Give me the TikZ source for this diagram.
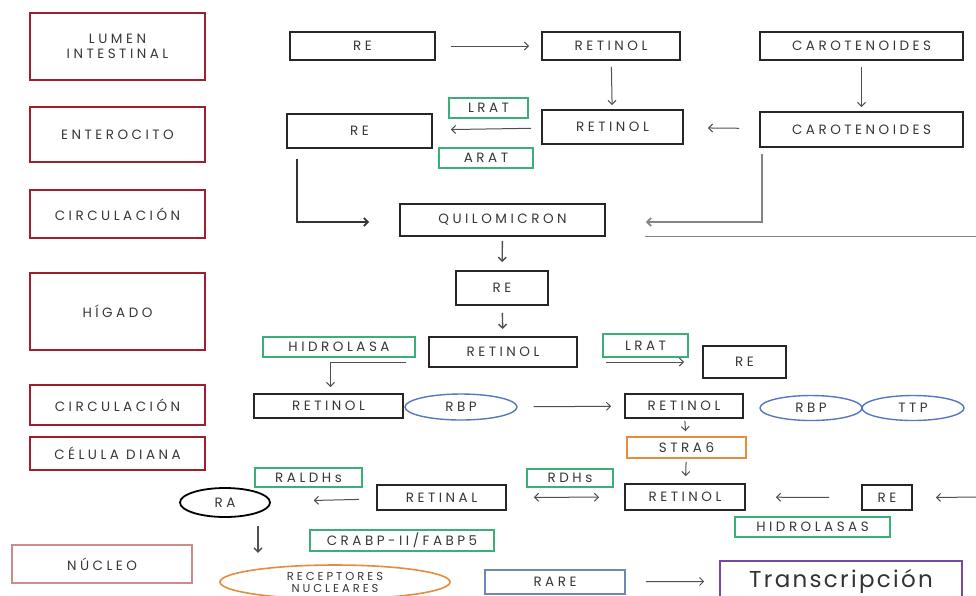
\documentclass[tikz,border=0pt]{standalone}
\usepackage{fontspec}
\setmainfont{Poppins}
\newfontfamily\cajafont[LetterSpace=26]{Poppins}
\newfontfamily\grandefont[LetterSpace=10]{Poppins}
\usetikzlibrary{shapes.geometric,arrows.meta}

\definecolor{zonarojo}{RGB}{160,30,45}
\definecolor{nucleorosa}{RGB}{205,140,140}
\definecolor{verdeenz}{RGB}{60,175,120}
\definecolor{naranja}{RGB}{230,140,60}
\definecolor{azulov}{RGB}{85,120,190}
\definecolor{azulrare}{RGB}{110,135,185}
\definecolor{morado}{RGB}{115,75,165}
\definecolor{texto}{RGB}{55,55,55}
\definecolor{gris}{RGB}{80,80,80}

\begin{document}
\begin{tikzpicture}[x=1pt,y=-1pt,
  every node/.style={font=\cajafont\fontsize{13.5}{15}\selectfont, text=texto, inner sep=0pt},
  zona/.style={draw=zonarojo, line width=1.5pt, align=center},
  caja/.style={draw=black!85, line width=1.8pt},
  enzima/.style={draw=verdeenz, line width=1.8pt},
  ovalo/.style={ellipse, draw=azulov, line width=1.4pt},
  flecha/.style={-{Straight Barb[length=4pt,width=8pt]}, draw=gris, line width=1pt}]

  \useasboundingbox (0,0) rectangle (976,595);
  \clip (0,0) rectangle (976,595);
  \fill[white] (0,0) rectangle (976,595);

  % Zonas (columna izquierda)
  \node[zona, minimum width=175, minimum height=67] (lumen) at (117.5,46.5) {LUMEN\\INTESTINAL};
  \node[zona, minimum width=175, minimum height=55] (entero) at (117.5,134.5) {ENTEROCITO};
  \node[zona, minimum width=175, minimum height=48] (circA) at (117.5,214) {CIRCULACIÓN};
  \node[zona, minimum width=175, minimum height=77] (higado) at (117.5,311.5) {HÍGADO};
  \node[zona, minimum width=175, minimum height=40] (circB) at (117.5,405) {CIRCULACIÓN};
  \node[zona, minimum width=175, minimum height=33] (diana) at (117.5,453.5) {CÉLULA DIANA};
  \node[zona, draw=nucleorosa, minimum width=180, minimum height=38] (nucleo) at (102,564) {NÚCLEO};

  % Lumen intestinal
  \node[caja, minimum width=145, minimum height=28] (re1) at (362.5,46) {RE};
  \node[caja, minimum width=138, minimum height=28] (ret1) at (611,46) {RETINOL};
  \node[caja, minimum width=203, minimum height=28] (car1) at (861.5,46) {CAROTENOIDES};

  % Enterocito
  \node[caja, minimum width=145, minimum height=34] (re2) at (359.5,131) {RE};
  \node[enzima, minimum width=79, minimum height=20] (lrat1) at (488.5,108) {LRAT};
  \node[enzima, minimum width=94, minimum height=20] (arat) at (486,158) {ARAT};
  \node[caja, minimum width=141, minimum height=34] (ret2) at (612.5,127) {RETINOL};
  \node[caja, minimum width=203, minimum height=35] (car2) at (861.5,129.5) {CAROTENOIDES};
  \node[caja, minimum width=205, minimum height=32] (quilo) at (502.5,220) {QUILOMICRON};

  % Higado
  \node[caja, minimum width=92, minimum height=34] (re3) at (502,288) {RE};
  \node[enzima, minimum width=152, minimum height=20] (hidro) at (339,347) {HIDROLASA};
  \node[caja, minimum width=148, minimum height=30] (ret3) at (503,352) {RETINOL};
  \node[enzima, minimum width=85, minimum height=23] (lrat2) at (645.5,345.5) {LRAT};
  \node[caja, minimum width=83, minimum height=32] (re4) at (744.5,362) {RE};

  % Circulacion
  \node[caja, minimum width=149, minimum height=24] (ret4) at (328.5,406) {RETINOL};
  \node[ovalo, minimum width=112, minimum height=26] (rbp1) at (461,407) {RBP};
  \node[caja, minimum width=118, minimum height=24] (ret5) at (684,406) {RETINOL};
  \node[ovalo, minimum width=102, minimum height=25] (rbp2) at (811,408) {RBP};
  \node[ovalo, minimum width=102, minimum height=25] (ttp) at (913,408) {TTP};

  % Celula diana
  \node[draw=naranja, line width=1.8pt, minimum width=119, minimum height=21] (stra6) at (686.5,447.5) {STRA6};
  \node[caja, minimum width=120, minimum height=26] (ret6) at (685,497) {RETINOL};
  \node[caja, minimum width=50, minimum height=25] (re5) at (887,497.5) {RE};
  \node[enzima, minimum width=155, minimum height=20] (hidros) at (812.5,527) {HIDROLASAS};
  \node[enzima, minimum width=86, minimum height=18] (rdhs) at (570,478) {RDHs};
  \node[caja, minimum width=129, minimum height=25] (retinal) at (441.5,497.5) {RETINAL};
  \node[enzima, minimum width=107, minimum height=19] (raldhs) at (308.5,477.5) {RALDHs};
  \node[ellipse, draw=black, line width=1.8pt, minimum width=90, minimum height=29] (ra) at (225,502.5) {RA};
  \node[enzima, minimum width=184, minimum height=21] (crabp) at (402,540.5) {CRABP-II/FABP5};

  % Nucleo
  \node[ellipse, draw=naranja, line width=1.6pt, minimum width=230, minimum height=34, align=center,
        font=\cajafont\fontsize{11.5}{12}\selectfont] (recep) at (335,582) {RECEPTORES\\NUCLEARES};
  \node[draw=azulrare, line width=1.8pt, minimum width=140, minimum height=24] (rare) at (555,582) {RARE};
  \node[draw=morado, line width=1.6pt, minimum width=242, minimum height=40, text=black!80,
        font=\grandefont\fontsize{23}{26}\selectfont] (trans) at (841,581) {Transcripción};

  % Conectores
  \draw[flecha, shorten <=15pt, shorten >=12pt] (re1) -- (ret1);
  \draw[flecha, shorten <=6pt, shorten >=4pt] (ret1) -- (ret2);
  \draw[flecha, shorten <=6pt, shorten >=4pt] (car1) -- (car2);
  \draw[flecha, shorten <=10pt, shorten >=18pt] (ret2) -- (re2);
  \draw[flecha, shorten <=20pt, shorten >=24pt] (car2) -- (ret2);
  \draw[flecha, line width=1.8pt, draw=black!80] ([xshift=11pt,yshift=-10pt]re2.south west) |- ([xshift=-30pt,yshift=-2pt]quilo.west);
  \draw[flecha, line width=1.8pt, draw=gris!70] ([xshift=3pt,yshift=-6pt]car2.south west) |- ([xshift=40pt,yshift=-2pt]quilo.east);
  \coordinate (lineaA) at (645,236);
  \coordinate (lineaB) at (976,236);
  \draw[gris!70, line width=1pt] (lineaA) -- (lineaB);
  \draw[flecha, line width=1.4pt, shorten <=4pt, shorten >=8pt] (quilo) -- (re3);
  \draw[flecha, line width=1.4pt, shorten <=7pt, shorten >=7pt] (re3) -- (ret3);
  \draw[flecha] ([xshift=-22pt,yshift=-10pt]ret3.west) -| ([xshift=2pt,yshift=6pt]ret4.north);
  \draw[flecha, shorten >=18pt] ([xshift=28pt,yshift=-10pt]ret3.east) -- (re4.west);
  \draw[flecha, shorten <=16pt, shorten >=13pt] (rbp1) -- (ret5);
  \draw[flecha, shorten <=2pt, shorten >=5pt] (ret5) -- (stra6);
  \draw[flecha, shorten <=3pt, shorten >=7pt] (stra6) -- (ret6);
  \draw[flecha, shorten <=32pt, shorten >=30pt] (re5) -- (ret6);
  \coordinate (entraRE) at (976,497);
  \draw[flecha] (entraRE) -- ([xshift=23pt]re5.east);
  \draw[{Straight Barb[length=4pt,width=8pt]}-{Straight Barb[length=4pt,width=8pt]}, draw=gris, line width=1pt,
        shorten <=25pt, shorten >=27pt] (ret6) -- (retinal);
  \draw[flecha, shorten <=17pt, shorten >=43pt] (retinal) -- (ra);
  \draw[flecha, line width=1.4pt] ([xshift=33pt,yshift=-8pt]ra.south) -- ([xshift=33pt,yshift=-35pt]ra.south);
  \draw[flecha, shorten <=20pt, shorten >=15pt] (rare) -- (trans);
\end{tikzpicture}
\end{document}
